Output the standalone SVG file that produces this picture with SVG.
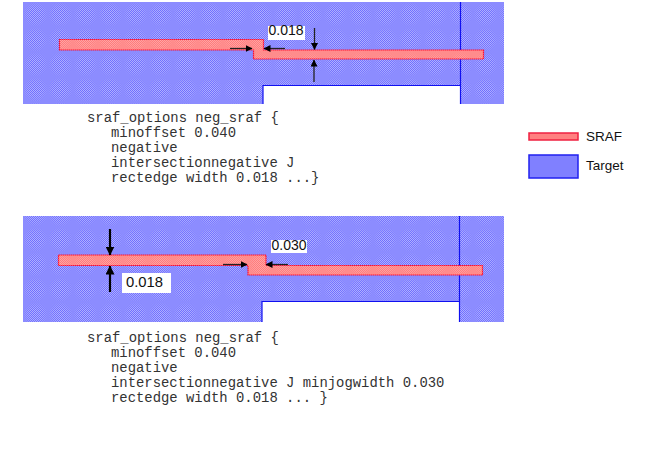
<svg xmlns="http://www.w3.org/2000/svg" width="648" height="465" viewBox="0 0 648 465">
<style>
.code{font-family:"Liberation Mono",monospace;font-size:13.9px;fill:#333;white-space:pre}
.lab{font-family:"Liberation Sans",Arial,sans-serif;fill:#111}
.sraf{fill:url(#srafFill);stroke:#ff1030;stroke-width:1.2;stroke-dasharray:1.500 .5}
.tline{fill:none;stroke:#1010f0;stroke-width:1.2}
.arr{stroke:#222;stroke-width:1.3;fill:none;marker-end:url(#head)}
.arrb{stroke:#000;stroke-width:2.2;fill:none;marker-end:url(#headb)}
</style>
<defs>
<pattern id="chk" width="2" height="2" patternUnits="userSpaceOnUse"><rect width="2" height="2" fill="#b4b4ff"/><rect width="1" height="1" fill="#6c6cff"/><rect x="1" y="1" width="1" height="1" fill="#6c6cff"/></pattern>
<pattern id="chk2" width="2" height="2" patternUnits="userSpaceOnUse"><rect width="2" height="2" fill="#ffa8a8"/><rect width="1" height="1" fill="#ff7878"/><rect x="1" y="1" width="1" height="1" fill="#ff7878"/></pattern>
<radialGradient id="fade"><stop offset="0" stop-color="#fff"/><stop offset=".6" stop-color="#fff" stop-opacity=".75"/><stop offset="1" stop-color="#fff" stop-opacity="0"/></radialGradient>
<mask id="spot" maskUnits="userSpaceOnUse" x="0" y="0" width="25" height="25"><rect width="25" height="25" fill="#000"/><circle cx="12.500" cy="12.500" r="12.500" fill="url(#fade)"/></mask>
<pattern id="tgt" width="25" height="25" patternUnits="userSpaceOnUse" patternTransform="translate(23 2)"><rect width="25" height="25" fill="#8c8cff"/><rect width="25" height="25" fill="url(#chk)" mask="url(#spot)"/></pattern>
<pattern id="srafFill" width="25" height="25" patternUnits="userSpaceOnUse" patternTransform="translate(23 2)"><rect width="25" height="25" fill="#ff8c8c"/><rect width="25" height="25" fill="url(#chk2)" mask="url(#spot)"/></pattern>
<marker id="head" markerUnits="userSpaceOnUse" markerWidth="7" markerHeight="7" refX="6.500" refY="3.500" orient="auto"><path d="M0 0L7 3.500L0 7Z" fill="#000"/></marker>
<marker id="headb" markerUnits="userSpaceOnUse" markerWidth="9" markerHeight="9" refX="8.500" refY="4.500" orient="auto"><path d="M0 0L9 4.500L0 9Z" fill="#000"/></marker>
</defs>
<g id="layout-top">
<rect x="23" y="2" width="481" height="102" fill="url(#tgt)"/>
<rect x="263" y="85" width="197" height="19" fill="#fff"/>
<path class="tline" d="M263 104V85.500H460.500M460.500 2V104"/>
<path id="sraf-top" class="sraf" d="M59.500 39.500H263.500V50H483.500V59H253.500V50H59.500Z"/>
</g>
<g id="layout-bottom">
<rect x="23" y="216" width="481" height="106" fill="url(#tgt)"/>
<rect x="262" y="301" width="197" height="21" fill="#fff"/>
<path class="tline" d="M262 322V301.500H459.500M459.500 216V322"/>
<path id="sraf-bottom" class="sraf" d="M58.500 255H266V265.500H482.500V275H248V265.500H58.500Z"/>
</g>
<g id="connectors">
<path class="arr" d="M230 48.500H252"/>
<path class="arr" d="M285 48.500H264"/>
<path class="arr" d="M314.500 28V49.500"/>
<path class="arr" d="M314 82V60"/>
<path class="arrb" d="M110 229V255"/>
<path class="arrb" d="M110 292V266"/>
<path class="arr" d="M223 264.500H247"/>
<path class="arr" d="M288 264.500H266"/>
</g>
<g id="label-0018-top"><rect x="268" y="26" width="37" height="14" fill="#fff"/><text class="lab" x="268.500" y="35" font-size="14">0.018</text></g>
<g id="label-0018-bottom"><rect x="122" y="273" width="49" height="20" fill="#fff"/><text class="lab" x="126" y="287" font-size="14.800">0.018</text></g>
<g id="label-0030"><rect x="271" y="240" width="36" height="13" fill="#fff"/><text class="lab" x="271.500" y="250" font-size="14">0.030</text></g>
<g id="code-top">
<text class="code" x="87" y="121.500">sraf_options neg_sraf {</text>
<text class="code" x="111" y="136.500">minoffset 0.040</text>
<text class="code" x="111" y="151.500">negative</text>
<text class="code" x="111" y="166.500">intersectionnegative J</text>
<text class="code" x="111" y="181.500">rectedge width 0.018 ...}</text>
</g>
<g id="code-bottom">
<text class="code" x="87" y="341.500">sraf_options neg_sraf {</text>
<text class="code" x="111" y="356.500">minoffset 0.040</text>
<text class="code" x="111" y="371.500">negative</text>
<text class="code" x="111" y="386.500">intersectionnegative J minjogwidth 0.030</text>
<text class="code" x="111" y="401.500">rectedge width 0.018 ... }</text>
</g>
<g id="legend-sraf"><rect x="529" y="133" width="49" height="7" fill="#ff8080" stroke="#f02040" stroke-width="1.5"/><text class="lab" x="586" y="140.500" font-size="13.500">SRAF</text></g>
<g id="legend-target"><rect x="529" y="155" width="49" height="23" fill="#8080ff" stroke="#2020f0" stroke-width="1.5"/><text class="lab" x="586" y="170" font-size="13.500">Target</text></g>
</svg>
